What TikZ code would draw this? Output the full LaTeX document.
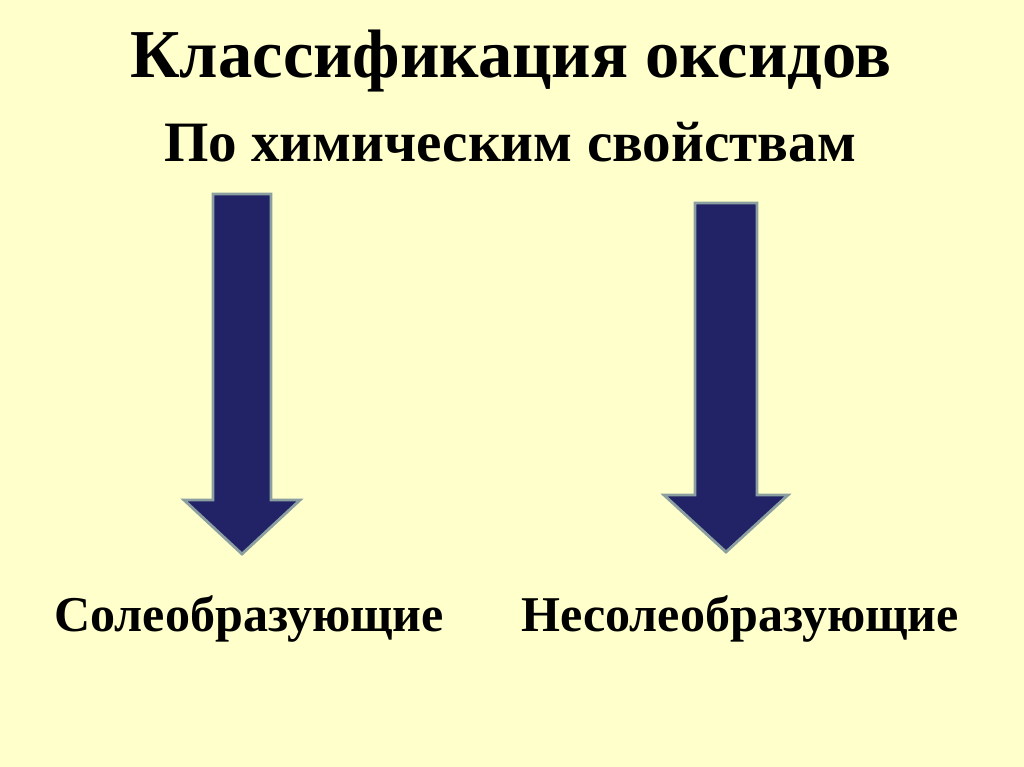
\documentclass[tikz,border=0pt]{standalone}
\usepackage{fontspec}
\setmainfont{Liberation Serif}
\definecolor{pagebg}{HTML}{FFFFCC}
\definecolor{arrowfill}{HTML}{222266}
\definecolor{arrowedge}{HTML}{8C9FA0}
\tikzset{
  blockarrow/.style={fill=arrowfill, draw=arrowedge, line width=1.6pt, line join=miter},
  headline/.style={font=\bfseries\fontsize{39}{44}\selectfont, anchor=base},
  subline/.style={font=\bfseries\fontsize{32.5}{37}\selectfont, anchor=base},
  classline/.style={font=\bfseries\fontsize{28.5}{33}\selectfont, anchor=base}
}
\begin{document}
\begin{tikzpicture}[x=0.02cm,y=-0.02cm]

    % background
    \fill[pagebg] (0,0) rectangle (1024,767);
    \useasboundingbox (0,0) rectangle (1024,767);

    % titles
    \node[headline] (title) at (511,78) {Классификация оксидов};
    \node[subline] (sub) at (510,161) {По химическим свойствам};

    % left arrow
    \draw[blockarrow] (213,194) -- (271,194) -- (271,500) -- (300,500) -- (242,554)
                      -- (184,500) -- (213,500) -- cycle;
    % right arrow
    \draw[blockarrow] (695,203) -- (757,203) -- (757,495) -- (788,495) -- (726,552)
                      -- (664,495) -- (695,495) -- cycle;

    % classes
    \node[classline] (salt) at (249,631) {Солеобразующие};
    \node[classline] (nosalt) at (740,631) {Несолеобразующие};

\end{tikzpicture}
\end{document}
